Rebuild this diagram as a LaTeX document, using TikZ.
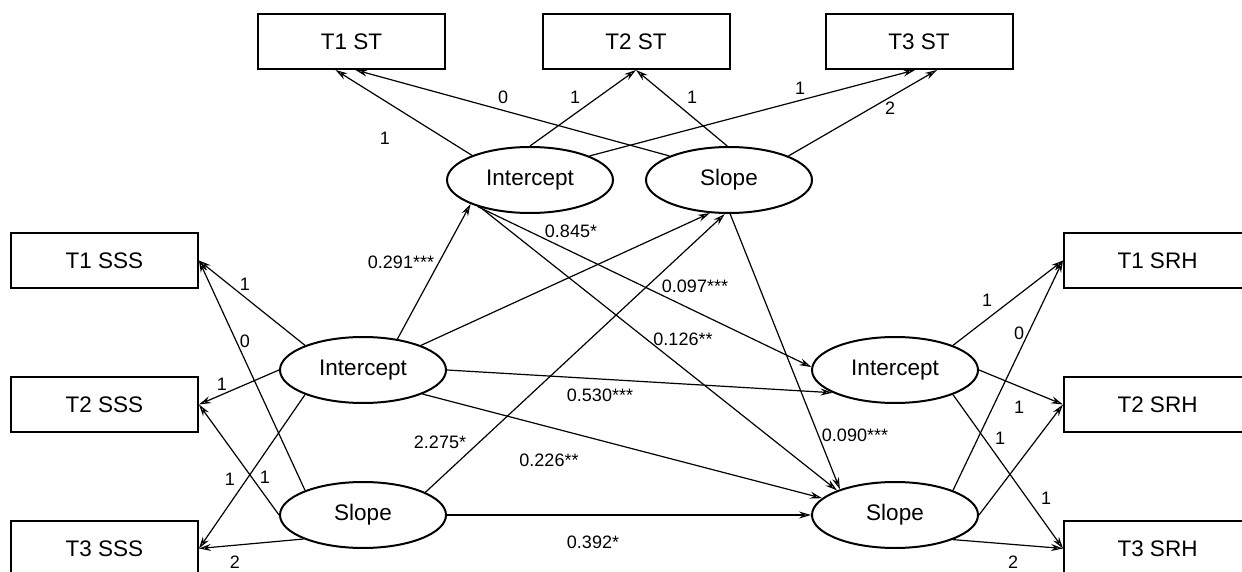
\documentclass[tikz,border=0pt]{standalone}
\usepackage{fontspec}
\setmainfont{Liberation Sans}
\usetikzlibrary{arrows.meta,shapes.geometric}
\begin{document}
\begin{tikzpicture}[x=1pt,y=-1pt,
  box/.style={draw, line width=2pt, minimum width=187pt, minimum height=55pt, inner sep=0pt, font=\fontsize{22.5}{27}\selectfont},
  lat/.style={draw, ellipse, line width=2pt, minimum width=166pt, minimum height=66pt, inner sep=0pt, font=\fontsize{22.5}{27}\selectfont},
  arr/.style={line width=1.2pt, -{Stealth[open,length=12pt,width=7pt,inset=4pt]}},
  lbl/.style={inner sep=0pt, font=\fontsize{18}{21}\selectfont}]
\useasboundingbox (0,0) rectangle (1242,572);
\clip (0,0) rectangle (1242,572);
\fill[white] (0,0) rectangle (1242,572);

% observed variables
\node[box] (t1st) at (351.5,41.5) {T1 ST};
\node[box] (t2st) at (636,41.5) {T2 ST};
\node[box] (t3st) at (919,41.5) {T3 ST};
\node[box] (t1sss) at (104.5,260.5) {T1 SSS};
\node[box] (t2sss) at (104.5,404.5) {T2 SSS};
\node[box] (t3sss) at (104.5,548.5) {T3 SSS};
\node[box] (t1srh) at (1157.5,260.5) {T1 SRH};
\node[box] (t2srh) at (1157.5,404.5) {T2 SRH};
\node[box] (t3srh) at (1157.5,548.5) {T3 SRH};

% latent variables
\node[lat] (ti) at (530,180) {Intercept};
\node[lat] (ts) at (729,180) {Slope};
\node[lat] (li) at (363,370) {Intercept};
\node[lat] (ls) at (363,515) {Slope};
\node[lat] (ri) at (895,370) {Intercept};
\node[lat] (rs) at (895,515) {Slope};

% top measurement
\draw[arr] (ti.157) -- ([xshift=-16pt]t1st.south);
\draw[arr] (ts.158) -- ([xshift=4pt]t1st.south);
\draw[arr] (ti.90) -- (t2st.south);
\draw[arr] (ts.93) -- (t2st.south);
\draw[arr] (ti.22) -- ([xshift=-4pt]t3st.south);
\draw[arr] (ts.22) -- ([xshift=18pt]t3st.south);

% left measurement
\draw[arr] (li.157) -- (t1sss.east);
\draw[arr] (ls.157) -- (t1sss.east);
\draw[arr] (li.180) -- (t2sss.east);
\draw[arr] (ls.180) -- (t2sss.east);
\draw[arr] (li.203) -- (t3sss.east);
\draw[arr] (ls.202) -- (t3sss.east);

% right measurement
\draw[arr] (ri.23) -- (t1srh.west);
\draw[arr] (rs.23) -- (t1srh.west);
\draw[arr] (ri.0) -- (t2srh.west);
\draw[arr] (rs.0) -- (t2srh.west);
\draw[arr] (ri.-23) -- (t3srh.west);
\draw[arr] (rs.-23) -- (t3srh.west);

% structural paths
\draw[arr] (li.42) -- (ti.202);
\draw[arr] (li.23) -- (ts.240);
\draw[arr] (ls.20) -- (ts.263);
\draw[arr] (ti.207) -- (ri.178);
\draw[arr] (ti.209) -- (rs.157);
\draw[arr] (ts.272) -- (rs.155);
\draw[arr] (li.0) -- (ri.200);
\draw[arr] (li.-22) -- (rs.167);
\draw[arr] (ls.0) -- (rs.180);

% loadings
\node[lbl] (a1) at (385,138) {1};
\node[lbl] (a2) at (503,97) {0};
\node[lbl] (a3) at (575,97) {1};
\node[lbl] (a4) at (692,97) {1};
\node[lbl] (a5) at (800,88) {1};
\node[lbl] (a6) at (890,108) {2};
\node[lbl] (b1) at (245,284) {1};
\node[lbl] (b2) at (245,341) {0};
\node[lbl] (b3) at (222,384) {1};
\node[lbl] (b4) at (230,479) {1};
\node[lbl] (b5) at (265,477) {1};
\node[lbl] (b6) at (235,562) {2};
\node[lbl] (c1) at (987,300) {1};
\node[lbl] (c2) at (1019,333) {0};
\node[lbl] (c3) at (1019,407) {1};
\node[lbl] (c4) at (1000,438) {1};
\node[lbl] (c5) at (1046,498) {1};
\node[lbl] (c6) at (1013,562) {2};

% path coefficients
\node[lbl] (p1) at (401,262) {0.291***};
\node[lbl] (p2) at (440,442) {2.275*};
\node[lbl] (p3) at (571,231) {0.845*};
\node[lbl] (p4) at (695,286) {0.097***};
\node[lbl] (p5) at (683,339) {0.126**};
\node[lbl] (p6) at (600,395) {0.530***};
\node[lbl] (p7) at (549,460) {0.226**};
\node[lbl] (p8) at (593,542) {0.392*};
\node[lbl] (p9) at (855,435) {0.090***};
\end{tikzpicture}
\end{document}
